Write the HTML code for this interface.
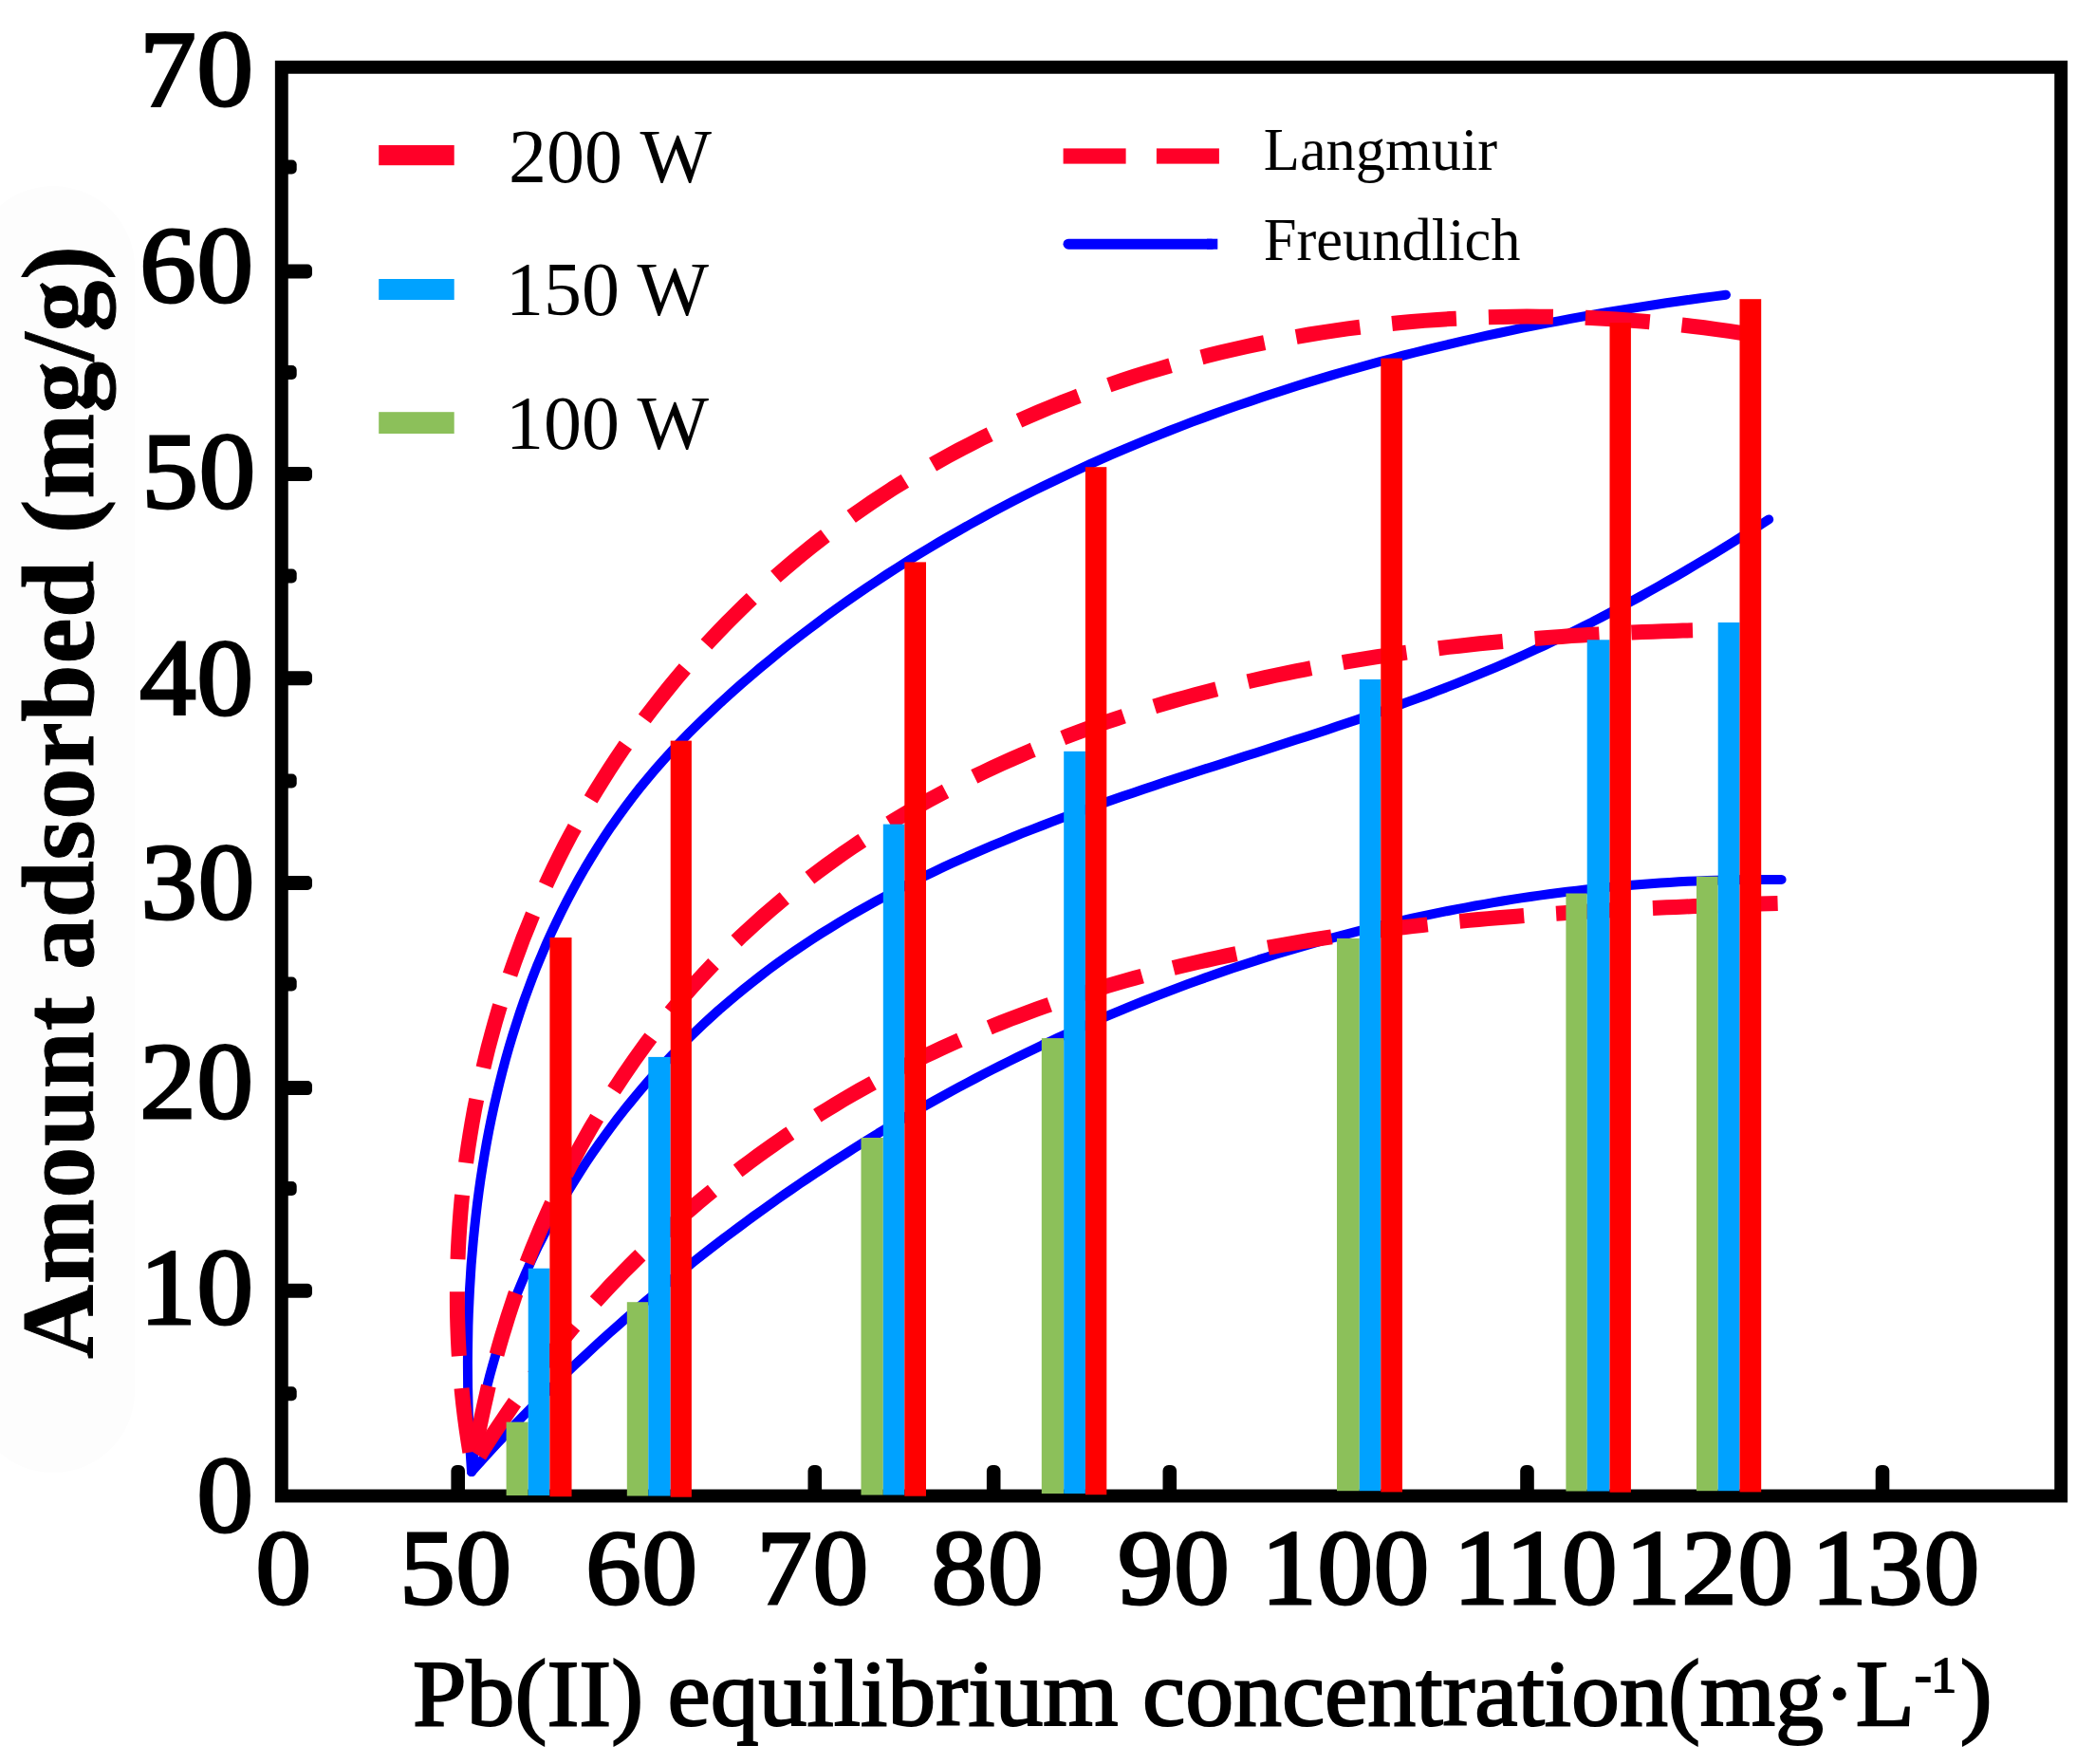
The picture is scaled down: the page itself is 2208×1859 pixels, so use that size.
<!DOCTYPE html>
<html><head><meta charset="utf-8"><title>Adsorption isotherms</title>
<style>html,body{margin:0;padding:0;background:#fff}svg{display:block}</style></head>
<body>
<svg width="2208" height="1859" viewBox="0 0 2208 1859">
<rect width="2208" height="1859" fill="#fff"/>
<rect x="-30" y="196" width="172" height="1356" rx="86" fill="#fdfdfd"/>
<path d="M497.0 1551.0 L496.2 1538.4 L495.4 1525.7 L494.8 1513.1 L494.2 1500.3 L493.7 1487.6 L493.4 1474.8 L493.1 1462.0 L493.0 1449.2 L492.9 1436.3 L493.0 1423.4 L493.2 1410.6 L493.4 1397.7 L493.8 1384.8 L494.4 1371.8 L495.0 1358.9 L495.8 1346.0 L496.6 1333.1 L497.7 1320.2 L498.8 1307.3 L500.1 1294.4 L501.5 1281.5 L503.0 1268.6 L504.7 1255.7 L506.5 1242.9 L508.5 1230.1 L510.6 1217.3 L512.8 1204.6 L515.2 1191.8 L517.8 1179.1 L520.5 1166.5 L523.4 1153.9 L526.4 1141.3 L529.6 1128.8 L532.9 1116.3 L536.4 1103.9 L540.1 1091.5 L544.0 1079.2 L548.0 1066.9 L552.2 1054.7 L556.6 1042.6 L561.1 1030.5 L565.8 1018.5 L570.8 1006.6 L575.8 994.8 L581.1 983.0 L586.6 971.4 L592.2 959.8 L598.0 948.4 L604.1 937.0 L610.3 925.7 L616.6 914.6 L623.2 903.6 L630.0 892.7 L636.9 881.9 L644.0 871.3 L651.4 860.8 L658.9 850.5 L666.6 840.3 L674.5 830.2 L682.6 820.3 L690.9 810.6 L699.3 801.0 L707.9 791.5 L716.7 782.2 L725.6 773.1 L734.7 764.0 L743.9 755.1 L753.2 746.3 L762.6 737.6 L772.1 729.1 L781.7 720.6 L791.4 712.2 L801.1 703.9 L811.0 695.8 L820.9 687.7 L830.9 679.7 L840.9 671.9 L851.1 664.1 L861.3 656.4 L871.5 648.8 L881.9 641.3 L892.3 633.9 L902.8 626.6 L913.4 619.4 L924.0 612.3 L934.7 605.3 L945.5 598.4 L956.3 591.6 L967.2 584.8 L978.1 578.2 L989.1 571.6 L1000.2 565.2 L1011.3 558.8 L1022.5 552.5 L1033.7 546.3 L1045.0 540.2 L1056.4 534.2 L1067.8 528.2 L1079.2 522.4 L1090.7 516.6 L1102.3 511.0 L1113.9 505.4 L1125.5 499.9 L1137.2 494.4 L1148.9 489.1 L1160.7 483.9 L1172.5 478.7 L1184.4 473.6 L1196.3 468.6 L1208.3 463.7 L1220.2 458.8 L1232.3 454.0 L1244.3 449.4 L1256.4 444.7 L1268.5 440.2 L1280.7 435.8 L1292.9 431.4 L1305.1 427.1 L1317.4 422.9 L1329.6 418.7 L1341.9 414.7 L1354.3 410.7 L1366.6 406.7 L1379.0 402.9 L1391.4 399.1 L1403.8 395.4 L1416.3 391.8 L1428.8 388.2 L1441.2 384.8 L1453.7 381.3 L1466.3 378.0 L1478.8 374.7 L1491.3 371.5 L1503.9 368.4 L1516.5 365.3 L1529.1 362.3 L1541.7 359.4 L1554.3 356.5 L1566.9 353.7 L1579.5 351.0 L1592.1 348.3 L1604.7 345.7 L1617.4 343.2 L1630.0 340.7 L1642.6 338.3 L1655.3 335.9 L1667.9 333.6 L1680.5 331.4 L1693.2 329.2 L1705.8 327.1 L1718.4 325.1 L1731.0 323.1 L1743.6 321.2 L1756.2 319.3 L1768.8 317.5 L1781.4 315.7 L1793.9 314.0 L1806.5 312.4 L1819.0 310.8" fill="none" stroke="#0000ff" stroke-width="10" stroke-linecap="round" stroke-linejoin="round"/>
<path d="M497.0 1551.0 L498.4 1539.6 L500.0 1528.3 L501.8 1516.9 L503.7 1505.7 L505.8 1494.5 L508.1 1483.3 L510.6 1472.2 L513.3 1461.1 L516.1 1450.1 L519.1 1439.2 L522.2 1428.3 L525.5 1417.5 L529.0 1406.7 L532.7 1396.0 L536.5 1385.4 L540.5 1374.8 L544.6 1364.3 L548.9 1353.8 L553.3 1343.4 L557.9 1333.1 L562.6 1322.9 L567.5 1312.7 L572.6 1302.7 L577.7 1292.7 L583.1 1282.7 L588.5 1272.9 L594.1 1263.1 L599.9 1253.4 L605.8 1243.8 L611.8 1234.3 L617.9 1224.9 L624.2 1215.5 L630.6 1206.3 L637.2 1197.1 L643.8 1188.1 L650.6 1179.1 L657.5 1170.2 L664.6 1161.5 L671.7 1152.8 L679.0 1144.2 L686.4 1135.7 L693.9 1127.4 L701.5 1119.1 L709.2 1110.9 L717.1 1102.9 L725.0 1095.0 L733.1 1087.1 L741.2 1079.4 L749.5 1071.8 L757.8 1064.3 L766.3 1057.0 L774.9 1049.7 L783.5 1042.6 L792.3 1035.6 L801.1 1028.7 L810.0 1021.9 L819.0 1015.3 L828.1 1008.7 L837.3 1002.3 L846.6 996.1 L856.0 989.9 L865.4 983.8 L874.9 977.9 L884.5 972.0 L894.1 966.3 L903.8 960.6 L913.6 955.1 L923.4 949.6 L933.3 944.3 L943.3 939.0 L953.3 933.9 L963.4 928.8 L973.5 923.8 L983.7 918.9 L993.9 914.1 L1004.2 909.3 L1014.5 904.7 L1024.9 900.1 L1035.3 895.6 L1045.7 891.1 L1056.2 886.8 L1066.7 882.5 L1077.2 878.2 L1087.8 874.1 L1098.4 870.0 L1109.0 865.9 L1119.6 861.9 L1130.3 858.0 L1140.9 854.1 L1151.6 850.3 L1162.3 846.5 L1173.0 842.7 L1183.7 839.0 L1194.5 835.4 L1205.2 831.7 L1215.9 828.2 L1226.7 824.6 L1237.4 821.1 L1248.2 817.6 L1258.9 814.1 L1269.7 810.6 L1280.4 807.2 L1291.2 803.7 L1301.9 800.3 L1312.6 796.8 L1323.4 793.4 L1334.1 790.0 L1344.8 786.5 L1355.5 783.1 L1366.2 779.6 L1376.9 776.2 L1387.6 772.7 L1398.3 769.2 L1409.0 765.6 L1419.6 762.1 L1430.2 758.5 L1440.8 754.8 L1451.4 751.2 L1462.0 747.5 L1472.6 743.7 L1483.1 739.9 L1493.6 736.1 L1504.1 732.2 L1514.6 728.2 L1525.0 724.2 L1535.4 720.1 L1545.8 715.9 L1556.2 711.7 L1566.5 707.4 L1576.8 703.1 L1587.1 698.6 L1597.3 694.1 L1607.5 689.5 L1617.7 684.8 L1627.9 680.1 L1638.0 675.3 L1648.1 670.4 L1658.2 665.5 L1668.2 660.4 L1678.3 655.4 L1688.2 650.2 L1698.2 645.0 L1708.2 639.7 L1718.1 634.4 L1728.0 629.0 L1737.8 623.5 L1747.7 618.0 L1757.5 612.4 L1767.3 606.8 L1777.1 601.1 L1786.9 595.3 L1796.6 589.5 L1806.3 583.7 L1816.0 577.7 L1825.7 571.8 L1835.3 565.7 L1845.0 559.7 L1854.6 553.6 L1864.2 547.4" fill="none" stroke="#0000ff" stroke-width="10" stroke-linecap="round" stroke-linejoin="round"/>
<path d="M497.0 1551.0 L503.5 1543.7 L510.1 1536.4 L516.7 1529.1 L523.4 1521.9 L530.1 1514.8 L536.8 1507.6 L543.5 1500.5 L550.3 1493.4 L557.2 1486.4 L564.1 1479.4 L571.0 1472.5 L577.9 1465.5 L584.9 1458.6 L592.0 1451.8 L599.0 1445.0 L606.1 1438.2 L613.3 1431.5 L620.4 1424.8 L627.6 1418.1 L634.9 1411.5 L642.2 1404.9 L649.5 1398.4 L656.8 1391.9 L664.2 1385.4 L671.6 1379.0 L679.1 1372.6 L686.6 1366.2 L694.1 1359.9 L701.6 1353.6 L709.2 1347.4 L716.8 1341.2 L724.5 1335.0 L732.1 1328.9 L739.9 1322.8 L747.6 1316.8 L755.4 1310.8 L763.2 1304.8 L771.0 1298.9 L778.9 1293.1 L786.8 1287.2 L794.7 1281.4 L802.7 1275.7 L810.7 1270.0 L818.7 1264.3 L826.7 1258.7 L834.8 1253.1 L842.9 1247.5 L851.1 1242.0 L859.2 1236.6 L867.4 1231.2 L875.6 1225.8 L883.9 1220.5 L892.2 1215.2 L900.5 1209.9 L908.8 1204.7 L917.2 1199.6 L925.5 1194.4 L933.9 1189.4 L942.4 1184.3 L950.8 1179.4 L959.3 1174.4 L967.8 1169.5 L976.4 1164.7 L984.9 1159.9 L993.5 1155.1 L1002.1 1150.4 L1010.8 1145.7 L1019.4 1141.1 L1028.1 1136.5 L1036.8 1131.9 L1045.6 1127.4 L1054.3 1123.0 L1063.1 1118.6 L1071.9 1114.2 L1080.7 1109.9 L1089.6 1105.7 L1098.4 1101.4 L1107.3 1097.3 L1116.2 1093.1 L1125.2 1089.1 L1134.1 1085.0 L1143.1 1081.0 L1152.1 1077.1 L1161.1 1073.2 L1170.1 1069.4 L1179.2 1065.6 L1188.2 1061.8 L1197.3 1058.1 L1206.4 1054.5 L1215.6 1050.9 L1224.7 1047.3 L1233.9 1043.8 L1243.1 1040.4 L1252.3 1036.9 L1261.5 1033.6 L1270.7 1030.3 L1280.0 1027.0 L1289.3 1023.8 L1298.5 1020.6 L1307.9 1017.5 L1317.2 1014.5 L1326.5 1011.4 L1335.9 1008.5 L1345.2 1005.6 L1354.6 1002.7 L1364.0 999.9 L1373.4 997.1 L1382.9 994.4 L1392.3 991.8 L1401.8 989.1 L1411.2 986.6 L1420.7 984.1 L1430.2 981.6 L1439.7 979.2 L1449.3 976.9 L1458.8 974.6 L1468.3 972.3 L1477.9 970.1 L1487.5 968.0 L1497.1 965.9 L1506.7 963.9 L1516.3 961.9 L1525.9 960.0 L1535.5 958.1 L1545.2 956.3 L1554.8 954.5 L1564.5 952.8 L1574.1 951.1 L1583.8 949.5 L1593.5 947.9 L1603.2 946.4 L1612.9 945.0 L1622.6 943.6 L1632.4 942.3 L1642.1 941.0 L1651.8 939.7 L1661.6 938.6 L1671.4 937.5 L1681.1 936.4 L1690.9 935.4 L1700.7 934.4 L1710.5 933.5 L1720.2 932.7 L1730.0 931.9 L1739.8 931.2 L1749.7 930.5 L1759.5 929.9 L1769.3 929.3 L1779.1 928.8 L1789.0 928.4 L1798.8 928.0 L1808.6 927.7 L1818.5 927.4 L1828.3 927.2 L1838.2 927.0 L1848.0 927.0 L1857.9 926.9 L1867.7 926.9 L1877.6 927.0" fill="none" stroke="#0000ff" stroke-width="10" stroke-linecap="round" stroke-linejoin="round"/>
<path d="M498.0 1546.0 L495.7 1532.7 L493.6 1519.4 L491.6 1506.0 L489.8 1492.7 L488.2 1479.2 L486.8 1465.8 L485.6 1452.4 L484.5 1438.9 L483.6 1425.4 L482.9 1411.9 L482.4 1398.4 L482.0 1384.9 L481.9 1371.4 L481.9 1357.8 L482.0 1344.3 L482.4 1330.8 L482.9 1317.3 L483.6 1303.8 L484.5 1290.3 L485.5 1276.8 L486.7 1263.3 L488.1 1249.9 L489.7 1236.5 L491.4 1223.1 L493.3 1209.7 L495.4 1196.3 L497.6 1183.0 L500.0 1169.7 L502.6 1156.5 L505.4 1143.3 L508.3 1130.1 L511.4 1117.0 L514.6 1103.9 L518.1 1090.9 L521.6 1078.0 L525.4 1065.0 L529.3 1052.2 L533.4 1039.4 L537.7 1026.7 L542.1 1014.0 L546.7 1001.4 L551.4 988.8 L556.4 976.4 L561.4 964.0 L566.7 951.7 L572.1 939.5 L577.7 927.3 L583.4 915.3 L589.3 903.3 L595.3 891.4 L601.5 879.6 L607.9 868.0 L614.4 856.4 L621.1 844.9 L628.0 833.5 L635.0 822.2 L642.1 811.0 L649.4 799.9 L656.8 788.9 L664.4 778.0 L672.2 767.2 L680.0 756.6 L688.1 746.0 L696.2 735.6 L704.5 725.2 L712.9 715.0 L721.5 704.9 L730.2 694.9 L739.1 685.0 L748.0 675.3 L757.1 665.7 L766.4 656.2 L775.7 646.8 L785.2 637.5 L794.8 628.4 L804.5 619.4 L814.4 610.5 L824.3 601.8 L834.4 593.2 L844.6 584.7 L854.9 576.3 L865.3 568.1 L875.9 560.1 L886.5 552.1 L897.3 544.3 L908.1 536.7 L919.1 529.2 L930.1 521.8 L941.3 514.6 L952.6 507.6 L963.9 500.6 L975.4 493.9 L987.0 487.2 L998.6 480.8 L1010.4 474.4 L1022.2 468.3 L1034.1 462.2 L1046.1 456.3 L1058.2 450.6 L1070.3 445.0 L1082.5 439.5 L1094.9 434.2 L1107.2 429.0 L1119.7 424.0 L1132.2 419.1 L1144.8 414.3 L1157.4 409.7 L1170.1 405.3 L1182.9 400.9 L1195.7 396.7 L1208.6 392.7 L1221.5 388.8 L1234.5 385.0 L1247.5 381.4 L1260.6 377.9 L1273.7 374.5 L1286.9 371.3 L1300.1 368.2 L1313.3 365.2 L1326.6 362.4 L1339.9 359.7 L1353.2 357.2 L1366.6 354.8 L1380.0 352.5 L1393.4 350.3 L1406.8 348.3 L1420.3 346.4 L1433.7 344.7 L1447.2 343.1 L1460.7 341.6 L1474.2 340.2 L1487.7 339.0 L1501.3 337.9 L1514.8 336.9 L1528.3 336.0 L1541.9 335.3 L1555.4 334.7 L1568.9 334.3 L1582.4 333.9 L1595.9 333.7 L1609.4 333.6 L1622.9 333.7 L1636.4 333.8 L1649.8 334.1 L1663.3 334.5 L1676.7 335.1 L1690.1 335.7 L1703.4 336.5 L1716.8 337.4 L1730.0 338.4 L1743.3 339.6 L1756.5 340.8 L1769.7 342.2 L1782.9 343.7 L1796.0 345.3 L1809.1 347.1 L1822.1 348.9 L1835.1 350.9 L1848.0 353.0" fill="none" stroke="#ff0028" stroke-width="16" stroke-linejoin="round" stroke-dasharray="68 34" stroke-dashoffset="86.2"/>
<path d="M498.0 1546.0 L499.7 1535.4 L501.6 1524.7 L503.5 1514.1 L505.5 1503.5 L507.7 1492.9 L510.0 1482.3 L512.4 1471.7 L514.8 1461.1 L517.4 1450.6 L520.1 1440.1 L523.0 1429.6 L525.9 1419.1 L528.9 1408.7 L532.1 1398.3 L535.3 1387.9 L538.7 1377.6 L542.1 1367.2 L545.7 1357.0 L549.4 1346.7 L553.1 1336.5 L557.0 1326.4 L561.0 1316.2 L565.1 1306.2 L569.3 1296.1 L573.6 1286.2 L578.0 1276.2 L582.6 1266.3 L587.2 1256.5 L591.9 1246.7 L596.7 1237.0 L601.7 1227.4 L606.7 1217.8 L611.8 1208.2 L617.1 1198.7 L622.4 1189.3 L627.9 1180.0 L633.4 1170.7 L639.1 1161.5 L644.8 1152.3 L650.7 1143.3 L656.6 1134.3 L662.7 1125.4 L668.9 1116.5 L675.1 1107.8 L681.5 1099.1 L687.9 1090.5 L694.5 1082.0 L701.1 1073.6 L707.9 1065.3 L714.8 1057.0 L721.7 1048.9 L728.8 1040.8 L735.9 1032.9 L743.2 1025.0 L750.5 1017.2 L757.9 1009.6 L765.5 1002.0 L773.1 994.5 L780.8 987.1 L788.6 979.8 L796.5 972.6 L804.4 965.5 L812.5 958.5 L820.6 951.6 L828.8 944.7 L837.1 938.0 L845.5 931.4 L853.9 924.8 L862.4 918.4 L871.0 912.0 L879.7 905.8 L888.4 899.6 L897.2 893.5 L906.1 887.5 L915.1 881.7 L924.1 875.9 L933.1 870.2 L942.3 864.6 L951.5 859.0 L960.7 853.6 L970.0 848.3 L979.4 843.1 L988.8 837.9 L998.3 832.9 L1007.8 827.9 L1017.4 823.0 L1027.0 818.3 L1036.7 813.6 L1046.4 809.0 L1056.2 804.5 L1066.0 800.1 L1075.8 795.8 L1085.7 791.5 L1095.7 787.4 L1105.6 783.3 L1115.7 779.4 L1125.7 775.5 L1135.8 771.7 L1145.9 767.9 L1156.1 764.3 L1166.3 760.7 L1176.6 757.3 L1186.8 753.9 L1197.1 750.5 L1207.5 747.3 L1217.8 744.1 L1228.2 741.0 L1238.6 738.0 L1249.1 735.1 L1259.6 732.2 L1270.1 729.4 L1280.6 726.7 L1291.1 724.0 L1301.7 721.4 L1312.3 718.9 L1322.9 716.5 L1333.5 714.1 L1344.2 711.8 L1354.8 709.6 L1365.5 707.4 L1376.2 705.3 L1386.9 703.2 L1397.6 701.2 L1408.4 699.3 L1419.1 697.4 L1429.9 695.6 L1440.6 693.9 L1451.4 692.2 L1462.2 690.6 L1473.0 689.0 L1483.8 687.5 L1494.6 686.0 L1505.4 684.6 L1516.2 683.2 L1527.0 681.9 L1537.8 680.7 L1548.6 679.5 L1559.4 678.3 L1570.2 677.2 L1581.0 676.2 L1591.8 675.2 L1602.5 674.2 L1613.3 673.3 L1624.1 672.5 L1634.8 671.6 L1645.6 670.9 L1656.3 670.1 L1667.1 669.4 L1677.8 668.8 L1688.5 668.2 L1699.2 667.6 L1709.8 667.0 L1720.5 666.5 L1731.1 666.1 L1741.7 665.7 L1752.3 665.3 L1762.9 664.9 L1773.5 664.6 L1784.0 664.3" fill="none" stroke="#ff0028" stroke-width="16" stroke-linejoin="round" stroke-dasharray="68 34" stroke-dashoffset="82.9"/>
<path d="M498.0 1546.0 L503.3 1537.4 L508.6 1528.7 L514.1 1520.2 L519.6 1511.7 L525.1 1503.3 L530.8 1494.9 L536.5 1486.6 L542.2 1478.3 L548.1 1470.1 L554.0 1462.0 L559.9 1454.0 L566.0 1445.9 L572.1 1438.0 L578.2 1430.1 L584.5 1422.3 L590.7 1414.6 L597.1 1406.9 L603.5 1399.2 L610.0 1391.7 L616.5 1384.2 L623.1 1376.7 L629.8 1369.4 L636.5 1362.1 L643.3 1354.8 L650.1 1347.7 L657.0 1340.5 L664.0 1333.5 L671.0 1326.5 L678.1 1319.6 L685.2 1312.8 L692.4 1306.0 L699.6 1299.3 L706.9 1292.6 L714.2 1286.1 L721.6 1279.6 L729.1 1273.1 L736.6 1266.7 L744.2 1260.4 L751.8 1254.2 L759.4 1248.0 L767.1 1242.0 L774.9 1235.9 L782.7 1230.0 L790.6 1224.1 L798.5 1218.3 L806.5 1212.5 L814.5 1206.9 L822.5 1201.3 L830.6 1195.7 L838.8 1190.3 L846.9 1184.9 L855.2 1179.6 L863.5 1174.3 L871.8 1169.2 L880.2 1164.1 L888.6 1159.0 L897.0 1154.1 L905.5 1149.2 L914.1 1144.4 L922.6 1139.7 L931.2 1135.0 L939.9 1130.5 L948.6 1126.0 L957.3 1121.5 L966.1 1117.2 L974.9 1112.9 L983.8 1108.7 L992.7 1104.5 L1001.6 1100.5 L1010.5 1096.5 L1019.5 1092.5 L1028.5 1088.7 L1037.6 1084.9 L1046.7 1081.2 L1055.8 1077.5 L1064.9 1073.9 L1074.1 1070.4 L1083.3 1067.0 L1092.6 1063.6 L1101.8 1060.3 L1111.1 1057.0 L1120.5 1053.9 L1129.8 1050.8 L1139.2 1047.7 L1148.6 1044.7 L1158.0 1041.8 L1167.4 1038.9 L1176.9 1036.1 L1186.4 1033.4 L1195.9 1030.8 L1205.5 1028.1 L1215.0 1025.6 L1224.6 1023.1 L1234.2 1020.7 L1243.8 1018.3 L1253.5 1016.0 L1263.1 1013.8 L1272.8 1011.6 L1282.5 1009.5 L1292.2 1007.4 L1301.9 1005.4 L1311.6 1003.4 L1321.4 1001.5 L1331.1 999.6 L1340.9 997.8 L1350.7 996.0 L1360.5 994.3 L1370.3 992.6 L1380.2 991.0 L1390.0 989.4 L1399.8 987.9 L1409.7 986.4 L1419.6 985.0 L1429.4 983.6 L1439.3 982.2 L1449.2 980.9 L1459.1 979.7 L1469.0 978.4 L1478.9 977.2 L1488.8 976.1 L1498.8 975.0 L1508.7 973.9 L1518.6 972.9 L1528.5 971.8 L1538.5 970.9 L1548.4 969.9 L1558.3 969.0 L1568.3 968.1 L1578.2 967.3 L1588.1 966.5 L1598.1 965.7 L1608.0 964.9 L1617.9 964.2 L1627.9 963.5 L1637.8 962.8 L1647.7 962.2 L1657.6 961.5 L1667.5 960.9 L1677.4 960.3 L1687.3 959.8 L1697.2 959.2 L1707.1 958.7 L1717.0 958.2 L1726.9 957.7 L1736.7 957.2 L1746.6 956.8 L1756.4 956.3 L1766.3 955.9 L1776.1 955.5 L1785.9 955.1 L1795.7 954.7 L1805.5 954.4 L1815.3 954.0 L1825.0 953.6 L1834.8 953.3 L1844.5 953.0 L1854.2 952.6 L1863.9 952.3 L1873.6 952.0" fill="none" stroke="#ff0028" stroke-width="16" stroke-linejoin="round" stroke-dasharray="68 34" stroke-dashoffset="88.4"/>
<rect x="296.8" y="70.8" width="1875.4" height="1505.7" fill="none" stroke="#000" stroke-width="13.9"/>
<rect x="298" y="278.5" width="31" height="15" rx="5" fill="#000"/>
<rect x="298" y="492.1" width="31" height="15" rx="5" fill="#000"/>
<rect x="298" y="707.3" width="31" height="15" rx="5" fill="#000"/>
<rect x="298" y="923.0" width="31" height="15" rx="5" fill="#000"/>
<rect x="298" y="1139.1" width="31" height="15" rx="5" fill="#000"/>
<rect x="298" y="1352.8" width="31" height="15" rx="5" fill="#000"/>
<rect x="298" y="168.5" width="14.7" height="15" rx="5" fill="#000"/>
<rect x="298" y="385.0" width="14.7" height="15" rx="5" fill="#000"/>
<rect x="298" y="599.5" width="14.7" height="15" rx="5" fill="#000"/>
<rect x="298" y="815.5" width="14.7" height="15" rx="5" fill="#000"/>
<rect x="298" y="1029.5" width="14.7" height="15" rx="5" fill="#000"/>
<rect x="298" y="1245.0" width="14.7" height="15" rx="5" fill="#000"/>
<rect x="298" y="1461.3" width="14.7" height="15" rx="5" fill="#000"/>
<rect x="475.4" y="1544" width="14.6" height="34" rx="6" fill="#000"/>
<rect x="663.4" y="1544" width="14.6" height="34" rx="6" fill="#000"/>
<rect x="851.5" y="1544" width="14.6" height="34" rx="6" fill="#000"/>
<rect x="1039.9" y="1544" width="14.6" height="34" rx="6" fill="#000"/>
<rect x="1225.5" y="1544" width="14.6" height="34" rx="6" fill="#000"/>
<rect x="1413.7" y="1544" width="14.6" height="34" rx="6" fill="#000"/>
<rect x="1602.2" y="1544" width="14.6" height="34" rx="6" fill="#000"/>
<rect x="1789.7" y="1544" width="14.6" height="34" rx="6" fill="#000"/>
<rect x="1976.7" y="1544" width="14.6" height="34" rx="6" fill="#000"/>
<rect x="533.6" y="1498.6" width="23.1" height="77.4" fill="#8cc05a"/>
<rect x="556.7" y="1336.7" width="22.7" height="239.3" fill="#00a2ff"/>
<rect x="579.4" y="988.0" width="23.1" height="589.2" fill="#ff0000"/>
<rect x="660.8" y="1372.2" width="22.5" height="204.3" fill="#8cc05a"/>
<rect x="683.3" y="1113.9" width="23.4" height="462.6" fill="#00a2ff"/>
<rect x="706.7" y="780.6" width="22.2" height="797.1" fill="#ff0000"/>
<rect x="907.5" y="1199.0" width="23.3" height="376.5" fill="#8cc05a"/>
<rect x="930.8" y="868.6" width="22.5" height="706.9" fill="#00a2ff"/>
<rect x="953.3" y="592.4" width="22.7" height="984.3" fill="#ff0000"/>
<rect x="1097.8" y="1094.1" width="23.4" height="479.9" fill="#8cc05a"/>
<rect x="1121.2" y="791.8" width="22.7" height="782.2" fill="#00a2ff"/>
<rect x="1143.9" y="492.2" width="22.4" height="1083.0" fill="#ff0000"/>
<rect x="1409.0" y="988.9" width="23.8" height="582.3" fill="#8cc05a"/>
<rect x="1432.8" y="716.0" width="22.5" height="855.2" fill="#00a2ff"/>
<rect x="1455.3" y="377.6" width="22.7" height="1194.8" fill="#ff0000"/>
<rect x="1650.4" y="941.5" width="22.3" height="630.0" fill="#8cc05a"/>
<rect x="1672.7" y="674.3" width="23.8" height="897.2" fill="#00a2ff"/>
<rect x="1696.5" y="340.2" width="22.4" height="1232.5" fill="#ff0000"/>
<rect x="1788.0" y="923.7" width="22.7" height="647.5" fill="#8cc05a"/>
<rect x="1810.7" y="656.0" width="22.8" height="915.2" fill="#00a2ff"/>
<rect x="1833.5" y="315.2" width="22.7" height="1257.2" fill="#ff0000"/>
<rect x="399.2" y="153" width="79.5" height="21.2" fill="#ff0028"/>
<rect x="399.2" y="294" width="79.5" height="22" fill="#00a2ff"/>
<rect x="399.2" y="434.2" width="79.5" height="22.8" fill="#8cc05a"/>
<rect x="1120.6" y="156.4" width="66" height="16.2" fill="#ff0028"/>
<rect x="1218.9" y="156.4" width="66" height="16.2" fill="#ff0028"/>
<line x1="1126" y1="257.2" x2="1277" y2="257.2" stroke="#0000ff" stroke-width="11" stroke-linecap="round"/>
<rect x="1272" y="251.7" width="11.3" height="11" fill="#0000ff"/>
<g font-family="'Liberation Serif', serif" fill="#000">
<text id="lg0" transform="translate(536.0 192.0) scale(1.000 1)" font-size="80.0" >200 W</text>
<text id="lg1" transform="translate(533.0 331.6) scale(1.000 1)" font-size="80.0" >150 W</text>
<text id="lg2" transform="translate(533.0 473.0) scale(1.000 1)" font-size="80.0" >100 W</text>
<text id="lang" transform="translate(1331.7 178.8) scale(1.000 1)" font-size="62.5" >Langmuir</text>
<text id="freu" transform="translate(1331.7 274.2) scale(1.000 1)" font-size="62.5" >Freundlich</text>
<text id="yl70" transform="translate(267.8 111.2) scale(1.035 1)" font-size="114.8" stroke="#000" stroke-width="3.0" stroke-linejoin="miter" text-anchor="end" letter-spacing="0.8">70</text>
<text id="yl60" transform="translate(267.8 318.0) scale(1.035 1)" font-size="114.8" stroke="#000" stroke-width="3.0" stroke-linejoin="miter" text-anchor="end" letter-spacing="0.8">60</text>
<text id="yl50" transform="translate(270.0 535.0) scale(1.035 1)" font-size="114.8" stroke="#000" stroke-width="3.0" stroke-linejoin="miter" text-anchor="end" letter-spacing="0.8">50</text>
<text id="yl40" transform="translate(267.8 752.5) scale(1.035 1)" font-size="114.8" stroke="#000" stroke-width="3.0" stroke-linejoin="miter" text-anchor="end" letter-spacing="0.8">40</text>
<text id="yl30" transform="translate(269.0 968.0) scale(1.035 1)" font-size="114.8" stroke="#000" stroke-width="3.0" stroke-linejoin="miter" text-anchor="end" letter-spacing="0.8">30</text>
<text id="yl20" transform="translate(267.8 1177.5) scale(1.035 1)" font-size="114.8" stroke="#000" stroke-width="3.0" stroke-linejoin="miter" text-anchor="end" letter-spacing="0.8">20</text>
<text id="yl10" transform="translate(267.8 1395.3) scale(1.035 1)" font-size="114.8" stroke="#000" stroke-width="3.0" stroke-linejoin="miter" text-anchor="end" letter-spacing="0.8">10</text>
<text id="yl0" transform="translate(267.8 1614.0) scale(1.035 1)" font-size="114.8" stroke="#000" stroke-width="3.0" stroke-linejoin="miter" text-anchor="end" letter-spacing="0.8">0</text>
<text id="xl0" transform="translate(299.2 1689.6) scale(1.035 1)" font-size="113.0" stroke="#000" stroke-width="3.0" stroke-linejoin="miter" text-anchor="middle" letter-spacing="0.8">0</text>
<text id="xl50" transform="translate(480.5 1689.6) scale(1.035 1)" font-size="113.0" stroke="#000" stroke-width="3.0" stroke-linejoin="miter" text-anchor="middle" letter-spacing="0.8">50</text>
<text id="xl60" transform="translate(676.6 1689.6) scale(1.035 1)" font-size="113.0" stroke="#000" stroke-width="3.0" stroke-linejoin="miter" text-anchor="middle" letter-spacing="0.8">60</text>
<text id="xl70" transform="translate(856.8 1689.6) scale(1.035 1)" font-size="113.0" stroke="#000" stroke-width="3.0" stroke-linejoin="miter" text-anchor="middle" letter-spacing="0.8">70</text>
<text id="xl80" transform="translate(1041.0 1689.6) scale(1.035 1)" font-size="113.0" stroke="#000" stroke-width="3.0" stroke-linejoin="miter" text-anchor="middle" letter-spacing="0.8">80</text>
<text id="xl90" transform="translate(1237.2 1689.6) scale(1.035 1)" font-size="113.0" stroke="#000" stroke-width="3.0" stroke-linejoin="miter" text-anchor="middle" letter-spacing="0.8">90</text>
<text id="xl100" transform="translate(1418.2 1689.6) scale(1.035 1)" font-size="113.0" stroke="#000" stroke-width="3.0" stroke-linejoin="miter" text-anchor="middle" letter-spacing="0.8">100</text>
<text id="xl110" transform="translate(1618.6 1689.6) scale(1.035 1)" font-size="113.0" stroke="#000" stroke-width="3.0" stroke-linejoin="miter" text-anchor="middle" letter-spacing="0.8">110</text>
<text id="xl120" transform="translate(1801.8 1689.6) scale(1.035 1)" font-size="113.0" stroke="#000" stroke-width="3.0" stroke-linejoin="miter" text-anchor="middle" letter-spacing="0.8">120</text>
<text id="xl130" transform="translate(1998.0 1689.6) scale(1.035 1)" font-size="113.0" stroke="#000" stroke-width="3.0" stroke-linejoin="miter" text-anchor="middle" letter-spacing="0.8">130</text>
<text id="xtitle" transform="translate(435.0 1817.5) scale(1.013 1)" font-size="100.5" stroke="#000" stroke-width="2.1" stroke-linejoin="miter" >Pb(II) equilibrium concentration(mg·L<tspan font-size="52" dy="-35">-1</tspan><tspan dy="35" dx="4">)</tspan></text>
<text id="ytitle" transform="translate(97.5 1432.0) rotate(-90)" font-size="108" font-weight="bold" stroke="#000" stroke-width="1" textLength="1173" lengthAdjust="spacing">Amount adsorbed (mg/g)</text>
</g>
</svg>
</body></html>
